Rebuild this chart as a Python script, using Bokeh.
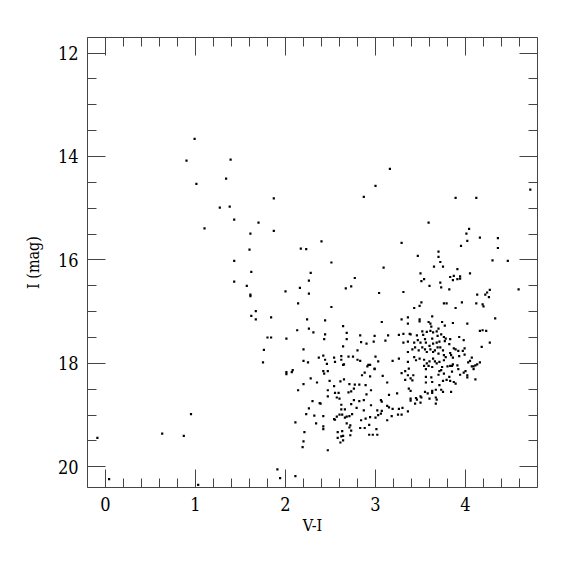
from bokeh.plotting import figure
from bokeh.models import Range1d, FixedTicker, LinearAxis, CustomJSTickFormatter
from bokeh.embed import file_html
from bokeh.resources import INLINE

# ---- data: colour (V-I) and magnitude (I) of each star ----
vi_isolated = [-0.09, 0.04, 0.63, 0.87, 0.95, 1.03, 0.99, 0.90, 1.39, 1.01, 1.34, 1.27, 1.38, 1.10]
i_isolated = [19.44, 20.24, 19.36, 19.40, 18.98, 20.35, 13.66, 14.08, 14.06, 14.53, 14.43, 14.99, 14.97, 15.39]

vi_bright = [1.87, 1.43, 1.70, 1.61, 1.87, 1.60, 3.16, 3.00, 2.87, 3.89, 4.12, 4.72, 3.59, 4.04, 4.01,
             4.02, 4.36, 4.16, 2.40, 3.29, 3.95, 4.36, 2.17, 2.23, 3.70, 3.47, 3.70, 4.47, 4.59, 4.30]
i_bright = [14.81, 15.22, 15.28, 15.49, 15.44, 15.80, 14.24, 14.57, 14.78, 14.80, 14.80, 14.64, 15.28, 15.40, 15.49,
            15.63, 15.58, 15.57, 15.64, 15.67, 15.73, 15.77, 15.78, 15.79, 15.84, 15.92, 15.94, 16.02, 16.57, 16.01]

vi_branch = [1.43, 1.62, 2.28, 1.43, 2.26, 1.57, 2.16, 2.00, 2.26, 1.61, 1.61, 2.14, 1.67, 1.62, 1.67,
             1.84, 2.24, 2.13, 2.26, 2.31, 1.80, 1.84, 2.01, 1.76, 2.20, 2.37, 1.75, 2.20, 2.25,
             2.01, 2.01, 2.08, 2.07, 2.28, 2.35, 2.20, 2.14, 2.30, 2.38, 2.26, 2.23, 2.32, 2.11, 2.34,
             2.21, 2.20, 2.19, 1.91, 1.94, 2.11]
i_branch = [16.02, 16.23, 16.25, 16.42, 16.40, 16.50, 16.54, 16.61, 16.65, 16.67, 16.70, 16.84, 16.99, 17.08, 17.15,
            17.11, 17.15, 17.36, 17.33, 17.40, 17.50, 17.50, 17.52, 17.74, 17.73, 17.89, 17.98, 17.95, 17.98,
            18.17, 18.21, 18.13, 18.17, 18.29, 18.37, 18.40, 18.52, 18.73, 18.77, 18.87, 18.98, 19.01, 19.14, 19.16,
            19.33, 19.51, 19.62, 20.05, 20.22, 20.18]

vi_mid = [2.51, 3.09, 2.77, 2.67, 2.73, 3.04, 3.31, 2.51, 2.44, 3.07, 3.29, 3.36, 3.36, 2.64, 2.44,
          2.43, 2.68, 2.68, 2.83, 2.99, 3.14, 3.26, 3.31, 3.38, 2.84, 2.90, 2.98, 3.11, 3.31, 3.36,
          2.64, 2.80, 3.36, 2.42, 2.44, 2.46, 2.54, 2.55, 2.62, 2.62, 2.65, 2.70, 2.75, 2.80, 2.83,
          2.91, 2.94, 3.00, 3.03, 2.99, 3.19, 3.26, 3.36, 3.37]
i_mid = [16.05, 16.15, 16.35, 16.55, 16.51, 16.64, 16.62, 16.91, 17.17, 17.20, 17.15, 17.11, 17.23, 17.28, 17.44,
         17.53, 17.41, 17.53, 17.46, 17.47, 17.46, 17.45, 17.43, 17.43, 17.59, 17.62, 17.58, 17.56, 17.60, 17.58,
         17.67, 17.75, 17.78, 17.85, 17.93, 18.01, 17.89, 17.97, 17.93, 17.86, 18.02, 17.87, 17.87, 17.93, 17.95,
         18.06, 18.03, 17.87, 17.96, 18.10, 17.95, 17.91, 17.97, 18.10]

vi_red_upper = [3.72, 3.65, 3.75, 3.91, 3.50, 4.05, 3.54, 3.83, 3.87, 3.86, 3.91, 3.94, 3.94, 3.51, 3.60,
                3.72, 3.73, 3.82, 4.27, 4.24, 4.22, 4.26, 4.13, 3.51, 3.49, 3.43, 3.76, 3.79, 3.89, 3.96,
                4.12, 4.19, 4.20, 4.33]
i_red_upper = [16.04, 16.13, 16.13, 16.18, 16.26, 16.26, 16.37, 16.33, 16.31, 16.39, 16.37, 16.32, 16.36, 16.41, 16.50,
               16.44, 16.53, 16.57, 16.58, 16.63, 16.67, 16.72, 16.67, 16.82, 16.89, 16.93, 16.84, 16.84, 16.93, 16.82,
               16.84, 16.86, 16.90, 17.13]

vi_clump = [3.63, 3.49, 3.49, 3.59, 3.61, 3.62, 3.74, 3.77, 3.86, 4.02, 4.16, 4.19, 4.23, 4.27, 4.18,
            3.52, 3.57, 3.61, 3.64, 3.68, 3.70, 3.39, 3.46, 3.53, 3.69, 3.73, 3.76, 3.78, 3.83, 3.93, 3.98,
            3.43, 3.47, 3.50, 3.52, 3.55, 3.56, 3.60, 3.63, 3.64, 3.68, 3.71, 3.72, 3.77, 3.82, 3.87,
            3.97, 3.99, 3.92, 3.41, 3.44, 3.48, 3.55, 3.57, 3.61, 3.64, 3.66, 3.69, 3.70, 3.75, 3.76,
            3.78, 3.83, 3.84, 3.86, 3.89, 3.93, 3.99, 4.03, 4.05, 4.07, 4.09, 4.13, 4.16,
            3.43, 3.45, 3.49, 3.54, 3.57, 3.60, 3.64, 3.66, 3.68, 3.71, 3.76, 3.80, 3.86, 3.91]
i_clump = [17.09, 17.15, 17.19, 17.20, 17.23, 17.29, 17.20, 17.27, 17.22, 17.23, 17.37, 17.36, 17.37, 17.60, 17.68,
           17.38, 17.39, 17.37, 17.40, 17.38, 17.33, 17.44, 17.46, 17.45, 17.47, 17.44, 17.49, 17.52, 17.53, 17.49, 17.55,
           17.60, 17.55, 17.60, 17.69, 17.53, 17.60, 17.66, 17.52, 17.62, 17.60, 17.58, 17.69, 17.57, 17.63, 17.71,
           17.76, 17.71, 17.76, 17.73, 17.69, 17.75, 17.73, 17.78, 17.73, 17.78, 17.75, 17.69, 17.81, 17.75, 17.84,
           17.88, 17.80, 17.84, 17.89, 17.73, 17.86, 17.83, 17.98, 17.95, 17.89, 18.06, 18.02, 17.98,
           17.88, 17.94, 17.91, 17.93, 18.00, 17.96, 17.91, 17.96, 18.00, 17.97, 17.94, 18.06, 18.02, 18.04]

vi_faint = [2.42, 2.47, 2.43, 2.64, 2.92, 2.99, 2.88, 2.94, 2.85, 3.08, 3.29, 3.33, 3.36, 3.33, 2.49,
            2.61, 2.65, 2.71, 2.77, 2.82, 2.89, 3.13, 2.47, 2.54, 2.70, 2.73, 2.76, 2.95, 2.90, 2.59,
            2.55, 3.37, 3.24, 3.15, 2.47, 2.57, 2.60, 2.76, 2.82, 2.87, 3.06, 3.07, 2.39, 2.62, 2.73,
            2.79, 2.87, 2.95, 3.13, 3.15, 3.19, 3.26, 3.30, 3.36, 3.39, 2.62, 2.66, 3.07, 3.02, 3.06,
            3.03, 3.00, 2.42, 2.55, 2.57, 2.60, 2.63, 2.66, 2.54, 2.68, 2.71, 2.74, 2.84, 2.89, 2.94,
            2.68, 2.72, 2.71, 2.73, 2.63, 2.42, 2.42, 2.83, 2.88, 2.93, 3.01, 3.13, 3.18, 3.25, 3.29,
            2.58, 2.62, 2.64, 2.58, 2.64, 2.61, 2.72, 2.93, 2.97, 3.02, 2.47]
i_faint = [18.15, 18.15, 18.20, 18.03, 18.03, 18.11, 18.18, 18.25, 18.23, 18.24, 18.19, 18.15, 18.23, 18.32, 18.34,
           18.35, 18.31, 18.40, 18.41, 18.41, 18.42, 18.37, 18.52, 18.44, 18.56, 18.54, 18.49, 18.52, 18.60, 18.57,
           18.57, 18.49, 18.58, 18.61, 18.64, 18.66, 18.68, 18.71, 18.73, 18.71, 18.71, 18.74, 18.78, 18.80, 18.79,
           18.86, 18.91, 18.81, 18.82, 18.85, 18.88, 18.88, 18.86, 18.93, 18.68, 18.89, 18.89, 18.92, 18.91, 18.97,
           19.00, 19.05, 19.02, 19.09, 19.03, 18.99, 18.99, 19.05, 19.08, 19.03, 19.02, 18.98, 19.10, 19.07, 19.04,
           19.16, 19.20, 19.24, 19.30, 19.31, 19.22, 19.27, 19.25, 19.25, 19.19, 19.27, 19.10, 19.02, 18.99, 18.99,
           19.33, 19.41, 19.40, 19.44, 19.49, 19.53, 19.39, 19.38, 19.38, 19.38, 19.68]

vi_red_faint = [3.54, 3.59, 3.63, 3.74, 3.83, 3.85, 3.71, 3.73, 3.56, 3.85, 3.92, 3.98, 4.00, 4.02, 4.02,
                3.94, 4.07, 4.11, 4.09, 3.42, 3.41, 3.39, 3.56, 3.62, 3.70, 3.76, 3.82, 3.79, 3.75, 3.83,
                3.87, 3.89, 4.11, 3.56, 3.63, 3.71, 3.84, 3.67, 3.73, 3.75, 3.63, 3.63, 3.55, 3.58, 3.39,
                3.39, 3.45, 3.46, 3.50, 3.51, 3.44, 3.50, 3.60, 3.67, 3.68, 3.67]
i_red_faint = [18.05, 18.05, 18.07, 18.07, 18.05, 18.05, 18.15, 18.13, 18.11, 18.16, 18.11, 18.18, 18.15, 18.23, 18.27,
               18.22, 18.06, 18.04, 18.11, 18.23, 18.33, 18.29, 18.26, 18.27, 18.22, 18.20, 18.26, 18.32, 18.34, 18.34,
               18.36, 18.39, 18.31, 18.37, 18.36, 18.42, 18.55, 18.51, 18.51, 18.55, 18.53, 18.57, 18.55, 18.58, 18.53,
               18.72, 18.67, 18.70, 18.64, 18.66, 18.78, 18.76, 18.68, 18.66, 18.70, 18.78]

vi = vi_isolated + vi_bright + vi_branch + vi_mid + vi_red_upper + vi_clump + vi_faint + vi_red_faint
imag = i_isolated + i_bright + i_branch + i_mid + i_red_upper + i_clump + i_faint + i_red_faint

x_major = [0, 1, 2, 3, 4]
y_major = [12, 14, 16, 18, 20]
x_limits = (-0.2, 4.8)
y_limits = (20.4, 11.7)
x_label = "V-I"
y_label = "I (mag)"

FONT = "DejaVu Serif Condensed"
AX = "#444444"

x_minor = [round(-0.2 + 0.2 * k, 2) for k in range(26)]
y_minor = [round(11.5 + 0.5 * k, 2) for k in range(19)]

p = figure(width=567, height=567, output_backend="svg", toolbar_location=None,
           x_range=Range1d(*x_limits), y_range=Range1d(*y_limits),
           min_border_left=87, min_border_right=30, min_border_top=37, min_border_bottom=80,
           x_axis_label=x_label, y_axis_label=y_label)
p.xgrid.visible = False
p.ygrid.visible = False
p.outline_line_color = None
p.background_fill_color = "white"
p.border_fill_color = "white"

p.scatter(vi, imag, marker="square", size=2.2, fill_color="black", line_color=None)

bottom = p.below[0]
left = p.left[0]
top = LinearAxis()
right = LinearAxis()
p.add_layout(top, "above")
p.add_layout(right, "right")

for ax, major, minor in [(bottom, x_major, x_minor), (left, y_major, y_minor),
                         (top, x_major, x_minor), (right, y_major, y_minor)]:
    ax.ticker = FixedTicker(ticks=major, minor_ticks=minor)
    ax.axis_line_color = AX
    ax.axis_line_width = 1
    ax.major_tick_line_color = AX
    ax.minor_tick_line_color = AX
    ax.major_tick_in = 18
    ax.major_tick_out = 0
    ax.minor_tick_in = 9
    ax.minor_tick_out = 0
    ax.major_label_text_font = FONT
    ax.major_label_text_font_size = "18px"
    ax.major_label_text_color = "black"
    ax.axis_label_text_font = FONT
    ax.axis_label_text_font_size = "16px"
    ax.axis_label_text_font_style = "normal"
    ax.axis_label_text_color = "black"

for ax in (top, right):
    ax.formatter = CustomJSTickFormatter(code="return ''")
    ax.major_label_standoff = 0

bottom.major_label_standoff = 9
left.major_label_standoff = 9
bottom.axis_label_standoff = 2
left.axis_label_standoff = 12

open("out.html", "w").write(file_html(p, INLINE))
